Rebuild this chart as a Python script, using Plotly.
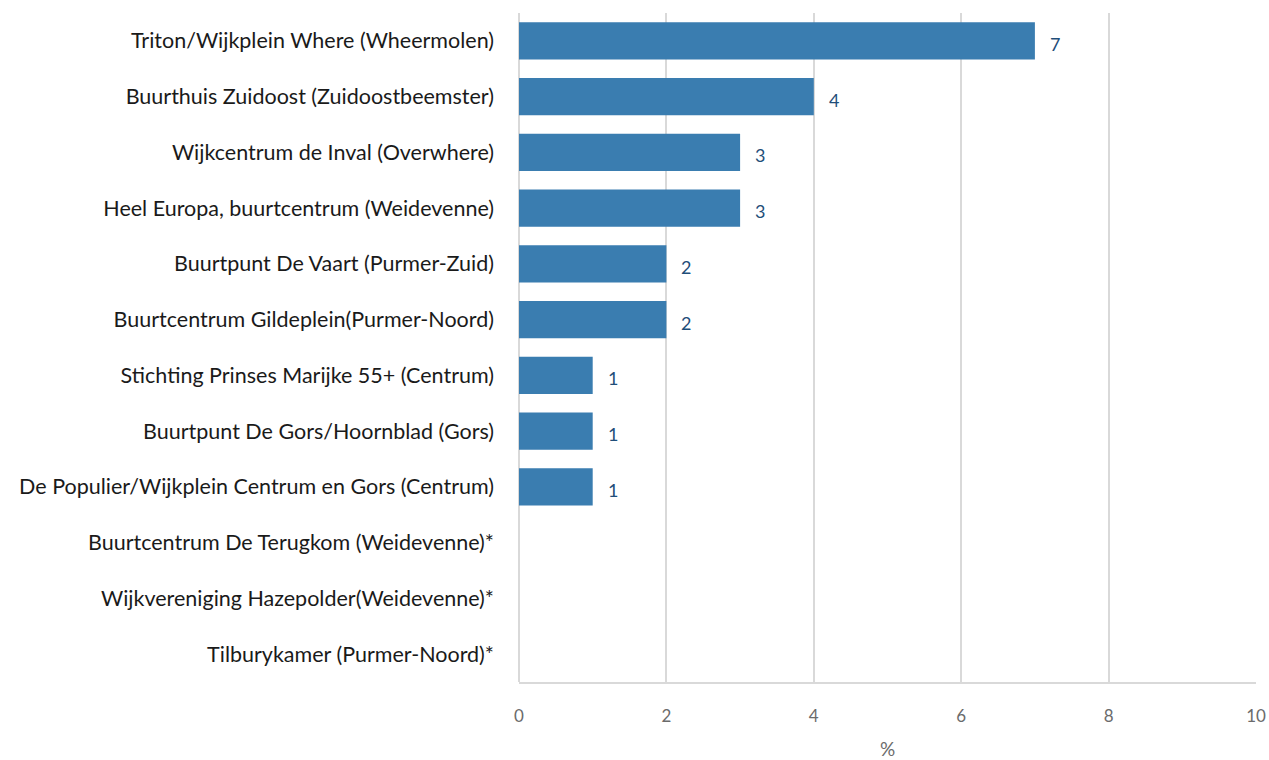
import plotly.graph_objects as go

categories = [
    "Triton/Wijkplein Where (Wheermolen)",
    "Buurthuis Zuidoost (Zuidoostbeemster)",
    "Wijkcentrum de Inval (Overwhere)",
    "Heel Europa, buurtcentrum (Weidevenne)",
    "Buurtpunt De Vaart (Purmer-Zuid)",
    "Buurtcentrum Gildeplein(Purmer-Noord)",
    "Stichting Prinses Marijke 55+ (Centrum)",
    "Buurtpunt De Gors/Hoornblad (Gors)",
    "De Populier/Wijkplein Centrum en Gors (Centrum)",
    "Buurtcentrum De Terugkom (Weidevenne)*",
    "Wijkvereniging Hazepolder(Weidevenne)*",
    "Tilburykamer (Purmer-Noord)*",
]
values = [7, 4, 3, 3, 2, 2, 1, 1, 1, 0, 0, 0]
x_ticks = [0, 2, 4, 6, 8, 10]

FONT = "Lato, sans-serif"

fig = go.Figure(go.Bar(
    x=values,
    y=categories,
    orientation="h",
    marker=dict(color="#3a7db0", line=dict(width=0)),
    hoverinfo="x+y",
))

for c, v in zip(categories, values):
    if v:
        fig.add_annotation(
            x=v, y=c, text=str(v), showarrow=False,
            xanchor="left", yanchor="middle", xshift=13, yshift=-3,
            font=dict(family=FONT, size=18, color="#1f4e79"),
        )

fig.update_layout(
    width=1269, height=760,
    margin=dict(l=519, r=13, t=13, b=78),
    paper_bgcolor="white", plot_bgcolor="white",
    bargap=0.335,
    showlegend=False,
    font=dict(family=FONT),
)
fig.update_yaxes(
    autorange="reversed",
    automargin=False,
    tickfont=dict(family=FONT, size=21.5, color="#1a1a1a"),
    ticklabelstandoff=24,
    showgrid=False,
    showline=False,
    ticks="",
)
fig.update_xaxes(
    range=[0, 10],
    automargin=False,
    tickvals=x_ticks,
    ticklabeloverflow="allow",
    tickfont=dict(family=FONT, size=17, color="#6b6b6b"),
    showgrid=True, gridcolor="#d9d9d9", gridwidth=2,
    zeroline=True, zerolinecolor="#d9d9d9", zerolinewidth=2,
    showline=True, linecolor="#d9d9d9", linewidth=2, mirror=False,
    ticks="", ticklabelstandoff=18,
    title=dict(text="%", font=dict(family=FONT, size=19, color="#6b6b6b"), standoff=20),
)

fig.write_html(
    "out.html",
    config={"displayModeBar": False},
    post_script="document.body.style.margin='0';document.body.style.overflow='hidden';",
)
